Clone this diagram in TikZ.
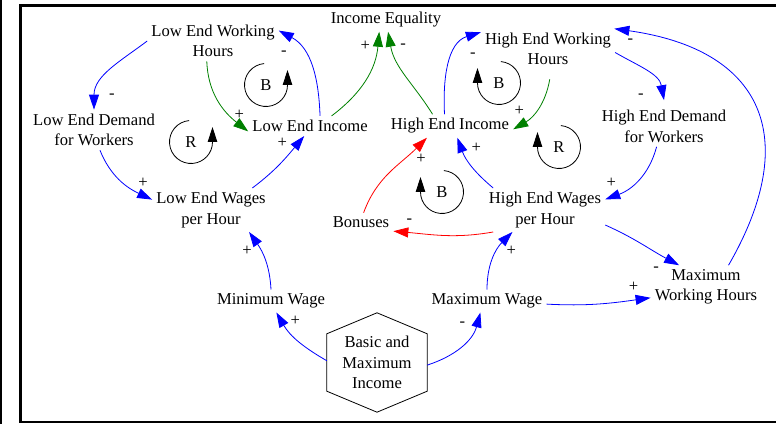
\documentclass[tikz,border=0pt]{standalone}
\usepackage{fontspec}
\setmainfont{Liberation Serif}
\usetikzlibrary{arrows.meta}

\begin{document}
\begin{tikzpicture}[x=1pt, y=1pt, node distance=216pt,
  font=\fontsize{16.6}{20.5}\selectfont,
  var/.style={align=center, inner sep=4pt},
  pol/.style={inner sep=0.5pt, text=black},
  link/.style={-{Triangle[length=15pt,width=10pt]}, line width=0.8pt, blue},
  glink/.style={link, green!50!black},
  rlink/.style={link, red},
  loopmark/.style={-{Triangle[length=15pt,width=9.5pt]}, line width=0.8pt, black}]
  \useasboundingbox (0,0) rectangle (776,427);
  \draw[line width=1.5pt] (1,427) -- (1,3);
  \draw[line width=2.7pt] (20.3,421.7) rectangle (780,5);

  % variables
  \node(ie)[var] at (386,407) {Income Equality};
  \node(lewh)[var] at (213,386) {Low End Working\\Hours};
  \node(ledw)[var] at (94,297) {Low End Demand\\for Workers};
  \node(lei)[var] at (310,301) {Low End Income};
  \node(lew)[var] at (211,217) {Low End Wages\\per Hour};
  \node(minw)[var] at (271,126) {Minimum Wage};
  \node(maxw)[var, right of=minw] {Maximum Wage};
  \node(hei)[var, node distance=140pt, right of=lei] {High End Income};
  \node(hew)[var, node distance=334pt, right of=lew] {High End Wages\\per Hour};
  \node(hewh)[var] at (548,378) {High End Working\\Hours};
  \node(hedw)[var] at (664,300.5) {High End Demand\\for Workers};
  \node(mwh)[var] at (706,140) {Maximum\\Working Hours};
  \node(bon)[var] at (361,204.5) {Bonuses};
  \node(bmi)[var, inner sep=0pt, minimum width=100pt, minimum height=57pt] at (377,64.5) {Basic and\\Maximum\\Income};
  \draw[line width=0.8pt] (bmi.north east) -- ([yshift=21pt]bmi.north) -- (bmi.north west)
    -- (bmi.south west) -- ([yshift=-21pt]bmi.south) -- (bmi.south east) -- cycle;

  % loop markers
  \node(lb) at (266,342) {B};
  \node(lr) at (191,285) {R};
  \node(hb) at (499,344) {B};
  \node(hr) at (559,280) {R};
  \node(bb) at (442,235) {B};
  \draw[loopmark] ([shift={(95:21.5)}]lb.center) arc[start angle=95, end angle=360, radius=21.5] -- ++(0,15);
  \draw[loopmark] ([shift={(95:21.5)}]lr.center) arc[start angle=95, end angle=360, radius=21.5] -- ++(0,15);
  \draw[loopmark] ([shift={(85:21.5)}]hb.center) arc[start angle=85, end angle=-180, radius=21.5] -- ++(0,15);
  \draw[loopmark] ([shift={(85:21.5)}]hr.center) arc[start angle=85, end angle=-180, radius=21.5] -- ++(0,15);
  \draw[loopmark] ([shift={(85:21.5)}]bb.center) arc[start angle=85, end angle=-180, radius=21.5] -- ++(0,15);

  % low end links
  \draw[link] (lewh.west) to[out=217,in=90] node[pol, pos=1, xshift=18pt, yshift=13pt] {-} (ledw.north);
  \draw[link] ([xshift=6pt]ledw.south) to[out=-68,in=155] node[pol, pos=1, xshift=-9pt, yshift=17pt] {+} (lew.170);
  \draw[link] (lew.28) to[out=37,in=-130] node[pol, pos=1, xshift=-22pt, yshift=-7pt] {+} (lei.-120);
  \draw[link] (lei.45) to[out=92,in=-28] node[pol, pos=1, xshift=5pt, yshift=-23pt] {-} (lewh.9);
  \draw[glink] (lewh.-107) to[out=-88,in=142] node[pol, pos=1, xshift=-9pt, yshift=17pt] {+} (lei.185);
  \draw[glink] (lei.25) to[out=37,in=-95] node[pol, pos=1, xshift=-14pt, yshift=-14pt] {+} (ie.-120);
  \draw[link] (minw.north) to[out=93,in=-55] node[pol, pos=1, xshift=-2pt, yshift=-19pt] {+} (lew.-30);
  \draw[link] (bmi.178) to[out=150,in=-60] node[pol, pos=1, xshift=19pt, yshift=-8pt] {+} (minw.-65);

  % high end links
  \draw[glink] (hei.146) to[out=122,in=-80] node[pol, pos=1, xshift=15pt, yshift=-14pt] {-} (ie.-80);
  \draw[link] (hei.115) to[out=93,in=-163] node[pol, pos=1, xshift=-8pt, yshift=-23pt] {-} (hewh.166);
  \draw[glink] ([yshift=-10pt]hewh.-85) to[out=-100,in=30] node[pol, pos=1, xshift=6pt, yshift=18pt] {+} (hei.-3);
  \draw[link] (hewh.-3) to[out=-30,in=100] node[pol, pos=1, xshift=-23pt, yshift=4pt] {-} ([yshift=6pt]hedw.north);
  \draw[link] (hedw.-110) to[out=-105,in=20] node[pol, pos=1, xshift=6pt, yshift=17pt] {+} (hew.10);
  \draw[link] (hew.157) to[out=140,in=-70] node[pol, pos=1, xshift=19pt, yshift=-10pt] {+} (hei.-58);
  \draw[rlink] (bon.75) to[out=70,in=-135] node[pol, pos=1, xshift=-6pt, yshift=-21pt] {+} (hei.-153);
  \draw[rlink] (hew.203) to[out=190,in=-5] node[pol, pos=1, xshift=16pt, yshift=10pt] {-} (bon.-15);
  \draw[link] (hew.-14) to[out=-24,in=152] node[pol, pos=1, xshift=-23pt, yshift=-4pt] {-} (mwh.141);
  \draw[link] (mwh.44) to[out=60,in=-8,looseness=1.45] node[pol, pos=1, xshift=16pt, yshift=-13pt] {-} (hewh.17);
  \draw[link] (maxw.-3) to[out=-3,in=188] node[pol, pos=1, xshift=-17pt, yshift=11pt] {+} (mwh.191);
  \draw[link] (maxw.north) to[out=90,in=-135] node[pol, pos=1, xshift=-1pt, yshift=-19pt] {+} (hew.-146);
  \draw[link] (bmi.-3) to[out=18,in=-105] node[pol, pos=1, xshift=-18pt, yshift=-12pt] {-} (maxw.-120);
\end{tikzpicture}
\end{document}
